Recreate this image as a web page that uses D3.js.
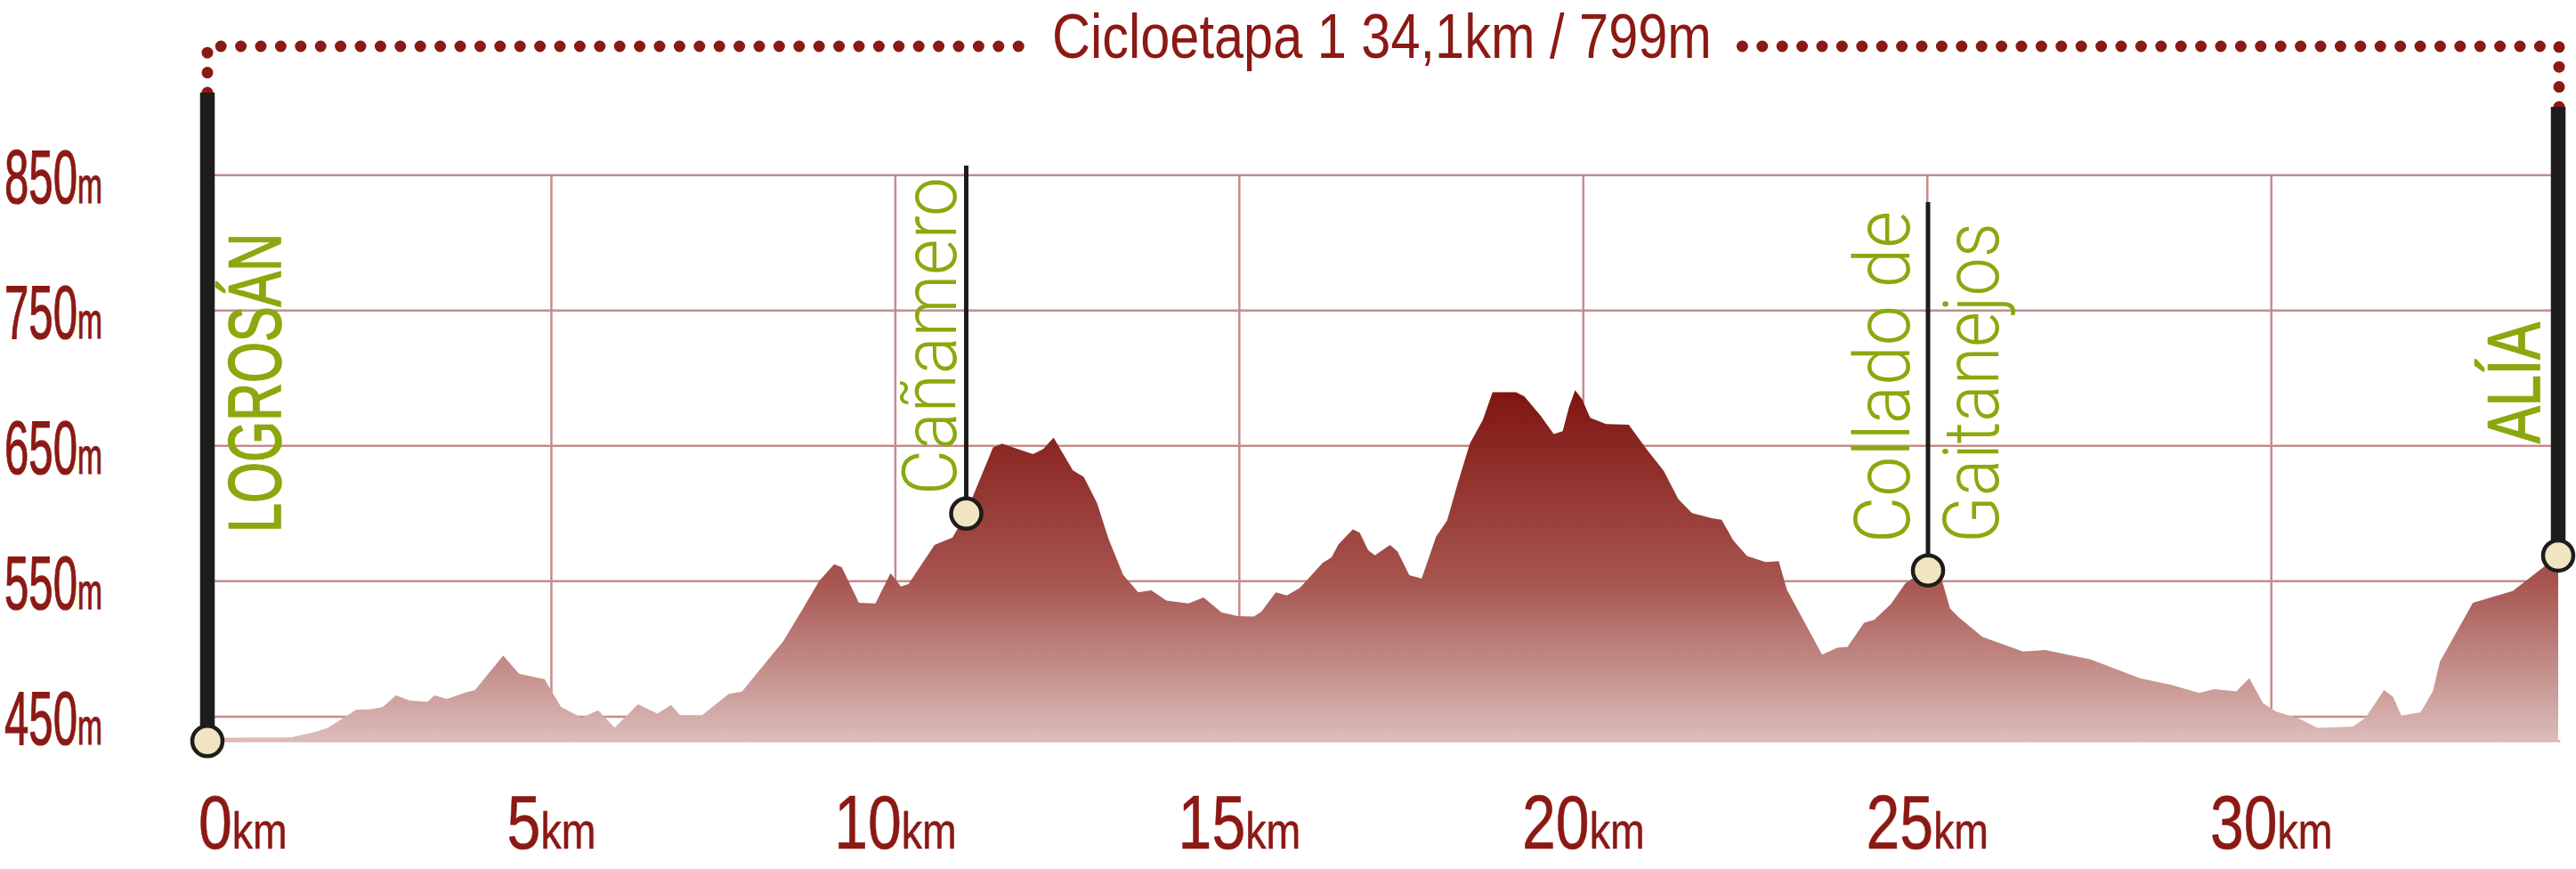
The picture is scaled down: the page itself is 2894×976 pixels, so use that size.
<!DOCTYPE html>
<html><head><meta charset="utf-8">
<script src="https://cdn.jsdelivr.net/npm/d3@7/dist/d3.min.js"></script>
<style>html,body{margin:0;padding:0;background:#fff;}svg{display:block;}</style>
</head><body>
<svg id="chart" width="2894" height="976"></svg>
<script>
// ---------- data ----------
const titleText = "Cicloetapa 1 34,1km / 799m";
const distanceKm = [0,0.11,1.21,1.56,1.75,2.16,2.38,2.55,2.74,2.94,3.20,3.30,3.48,3.76,3.89,4.30,4.53,4.90,5.14,5.44,5.68,5.92,6.26,6.54,6.74,6.87,7.19,7.58,7.77,8.37,8.63,8.89,9.11,9.22,9.47,9.71,9.93,10.08,10.19,10.57,10.83,11.03,11.11,11.42,11.55,12.00,12.15,12.30,12.58,12.74,12.93,13.10,13.31,13.53,13.72,13.94,14.26,14.48,14.74,14.98,15.21,15.32,15.53,15.69,15.88,16.21,16.34,16.44,16.65,16.75,16.87,16.97,17.19,17.30,17.47,17.65,17.86,18.02,18.17,18.35,18.54,18.68,19.02,19.14,19.38,19.57,19.70,19.79,19.88,19.98,20.10,20.33,20.66,20.91,21.17,21.38,21.58,21.88,22.01,22.18,22.38,22.65,22.84,22.96,23.47,23.69,23.84,24.08,24.23,24.47,24.68,25.01,25.22,25.33,25.46,25.80,26.39,26.71,27.38,28.09,28.55,28.95,29.17,29.49,29.68,29.88,30.07,30.39,30.67,31.19,31.37,31.64,31.77,31.89,32.17,32.35,32.45,32.93,33.51,33.98,34.17];
const elevationM = [433,434.5,434.7,438.6,441.7,455,455.5,457.2,465.7,462,461,465.7,463.1,468.1,469.7,495.2,481.7,477.8,457.2,449.3,454.8,441.9,459.2,452.2,458.7,451.1,451.1,466.9,468.6,505.7,527.6,550.1,562.6,560.4,534.1,533.7,556,546.2,547.9,576.8,582.3,600,610.7,648.9,651.7,643.9,647.8,656.1,632,627,608,581.1,554.9,541.8,543.3,535.7,533.7,538.1,527,524.3,523.9,527.6,541.8,539.6,545.1,563.6,567.6,577.2,588.4,585.9,573.1,569.1,576.8,572,554.5,552.1,583,594.9,621.6,651.7,669.2,689.7,689.7,686.7,672.3,658.8,660.9,678.4,691.1,684.5,670.8,666.2,665.7,648.2,631.4,610.7,600.4,596.5,595.4,580.1,568.7,564.3,564.8,543.6,495.9,500.9,501.5,519.3,521.7,533.1,548.4,560,549.4,529.8,523.3,509,498.1,499.2,492.2,478.4,473.4,467.5,470.3,468.7,478.4,460,453.7,448.9,441.7,442.8,449.3,469.7,464.6,450.7,453.3,469,490.5,534.1,542.9,561.5,569];
const xTicks = [0,5,10,15,20,25,30];
const yTicks = [450,550,650,750,850];
const waypointNames = [["LOGROSÁN"],["Cañamero"],["Collado de","Gaitanejos"],["ALÍA"]];
const waypointKm = [0,11.03,25.01,34.17];
const waypointM = [432,600,558,569];

// ---------- setup ----------
const svg = d3.select("#chart");
const x = d3.scaleLinear().domain([0,30]).range([233,2551.7]);
const y = d3.scaleLinear().domain([432,850]).range([832.3,196.7]);
const profile = distanceKm.map((d,i)=>({km:d,m:elevationM[i]}));
const RED = "#8b1914", GREEN = "#8ba80e", GRID = "#c48c8c", DARK = "#1d1d1b";
const FONT = "'Liberation Sans', Arial, sans-serif";
const LIGHT = "Roboto, 'Open Sans', 'Liberation Sans', sans-serif";

const defs = svg.append("defs");
const grad = defs.append("linearGradient").attr("id","fillGrad")
  .attr("gradientUnits","userSpaceOnUse")
  .attr("x1",0).attr("x2",0).attr("y1",y(690)).attr("y2",y(432));
grad.append("stop").attr("offset",0).attr("stop-color","#7f1511");
grad.append("stop").attr("offset",0.54).attr("stop-color","#a7544f");
grad.append("stop").attr("offset",1).attr("stop-color","#dcbdba");

// grid
const g = svg.append("g");
g.selectAll("line.h").data(yTicks).join("line")
  .attr("x1",x(0)).attr("x2",x(34.17)).attr("y1",d=>y(d)).attr("y2",d=>y(d))
  .attr("stroke",GRID).attr("stroke-width",2.5);
g.selectAll("line.v").data(xTicks.filter(d=>d>0)).join("line")
  .attr("x1",d=>x(d)).attr("x2",d=>x(d)).attr("y1",y(850)).attr("y2",y(432))
  .attr("stroke",GRID).attr("stroke-width",2.5);
g.append("line").attr("x1",x(0)).attr("x2",x(34.2)).attr("y1",y(432)).attr("y2",y(432))
  .attr("stroke","#d7aeac").attr("stroke-width",2.5);

// area
const area = d3.area().x(d=>x(d.km)).y0(y(432)).y1(d=>y(d.m));
svg.append("path").datum(profile).attr("d",area).attr("fill","url(#fillGrad)");

// dotted bracket
const dotted = (d)=>svg.append("path").attr("d",d).attr("fill","none")
  .attr("stroke",RED).attr("stroke-width",13).attr("stroke-linecap","round")
  .attr("stroke-dasharray","0 22.4");
dotted(`M${x(0)},104V52H1150`);
dotted(`M${x(34.17)+1},120V52H1945`);

// title
const t = svg.append("text").attr("text-anchor","middle").attr("font-family",FONT)
  .attr("font-size",70).attr("fill",RED).text(titleText);
fit(t,1552.5,65,0,741);

// waypoint markers
const markerTop = [104,186,227,120];
const markerWidth = [16.5,5,5,16.5];
waypointKm.forEach((k,i)=>{
  svg.append("line").attr("x1",x(k)).attr("x2",x(k)).attr("y1",markerTop[i]).attr("y2",y(waypointM[i]))
    .attr("stroke",DARK).attr("stroke-width",markerWidth[i]);
});
svg.selectAll("circle.wp").data(waypointKm).join("circle")
  .attr("cx",d=>x(d)).attr("cy",(d,i)=>y(waypointM[i])).attr("r",17)
  .attr("fill","#f1e4c1").attr("stroke",DARK).attr("stroke-width",4.5);

// waypoint labels (vertical)
const labelSpec = [
  [{bx:315,by:598,len:336,fs:84,ff:FONT,fw:400,sw:1.6}],
  [{bx:1074,by:556,len:357,fs:86,ff:LIGHT,fw:300,sw:0}],
  [{bx:2145,by:610,len:373,fs:87,ff:LIGHT,fw:300,sw:0},{bx:2245,by:610,len:360,fs:87,ff:LIGHT,fw:300,sw:0}],
  [{bx:2853,by:498,len:136,fs:84,ff:FONT,fw:400,sw:1.6}]
];
waypointNames.forEach((lines,i)=>{
  lines.forEach((txt,j)=>{
    const s = labelSpec[i][j];
    const el = svg.append("text").attr("font-family",s.ff).attr("font-weight",s.fw)
      .attr("font-size",s.fs).attr("fill",GREEN).text(txt);
    if (s.sw) el.attr("stroke",GREEN).attr("stroke-width",s.sw);
    fit(el,s.bx,s.by,-90,s.len);
  });
});

// y axis labels
yTicks.forEach(v=>{
  const el = svg.append("text").attr("font-family",FONT).attr("fill",RED)
    .attr("stroke",RED).attr("stroke-width",1.2);
  el.append("tspan").attr("font-size",85).text(v);
  el.append("tspan").attr("font-size",58).text("m");
  fit(el,5,y(v)+31,0,110);
});
// x axis labels
xTicks.forEach(v=>{
  const el = svg.append("text").attr("font-family",FONT).attr("fill",RED)
    .attr("stroke",RED).attr("stroke-width",0.6)
    .attr("text-anchor", v===0 ? "start" : "middle");
  el.append("tspan").attr("font-size",85).text(v);
  el.append("tspan").attr("font-size",58).text("km");
  fit(el, v===0 ? 223 : x(v), 953, 0, null);
});

function fit(sel,tx,ty,rot,target){
  const len = sel.node().getComputedTextLength();
  const sx = target ? target/len : 0.8;
  sel.attr("transform",`translate(${tx},${ty}) rotate(${rot}) scale(${sx},1)`);
}
</script>
</body></html>
